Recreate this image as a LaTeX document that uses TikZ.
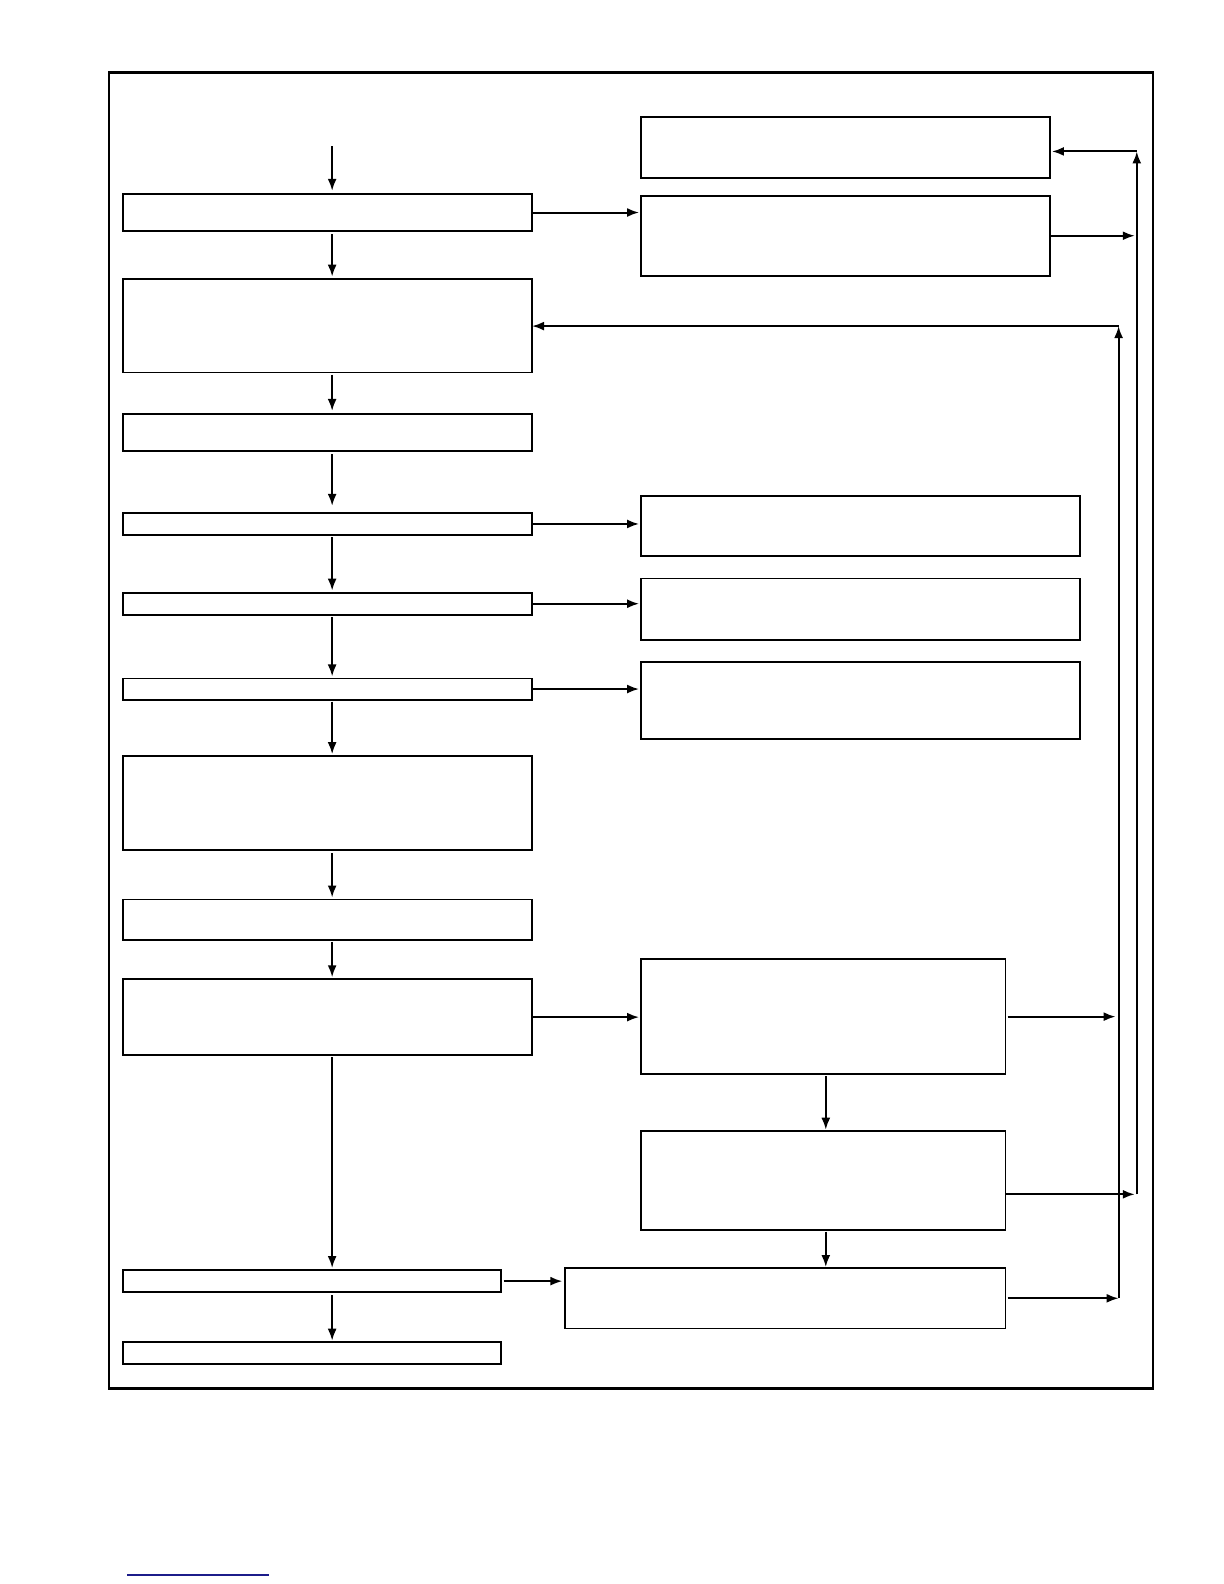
\documentclass[tikz,border=0pt]{standalone}
\usetikzlibrary{arrows.meta,fit}
\definecolor{l1}{HTML}{1C1C8A}
\newcommand\blk[5]{\node[box, fit={(#2,#3) (#4,#5)}] (#1) {};}

\begin{document}
\begin{tikzpicture}[x=1.0096pt,y=-1.0096pt,
	box/.style={draw,line width=1.8pt,inner sep=0pt,outer sep=0pt},
	arr/.style={->,line width=2pt},
	>={Latex[length=12pt,width=9pt]}]
	\useasboundingbox (0,0) rectangle (1212.4,1569);
	\draw [line width=2.8pt] (108,72) rectangle (1142,1375);
	\blk{b1}{122}{192}{527}{229}
	\blk{b2}{122}{276}{527}{369}
	\blk{b3}{122}{410}{527}{447}
	\blk{b4}{122}{508}{527}{530}
	\blk{b5}{122}{587}{527}{609}
	\blk{b6}{122}{672}{527}{693}
	\blk{b7}{122}{749}{527}{842}
	\blk{b8}{122}{891}{527}{931}
	\blk{b9}{122}{970}{527}{1045}
	\blk{b10}{122}{1258}{496}{1280}
	\blk{b11}{122}{1329}{496}{1351}
	\blk{r1}{635}{116}{1040}{176}
	\blk{r2}{635}{194}{1040}{273}
	\blk{r3}{635}{491}{1070}{551}
	\blk{r4}{635}{573}{1070}{634}
	\blk{r5}{635}{656}{1070}{732}
	\blk{r6}{635}{950}{996}{1064}
	\blk{r7}{635}{1120}{996}{1218}
	\blk{r8}{560}{1256}{996}{1316}
	\coordinate (in) at (329,145);
	\coordinate (o1) at (1126,150);
	\coordinate (o2) at (1126,1183);
	\coordinate (i1) at (1108,323);
	\coordinate (i2) at (1108,1286);
	\draw [arr,shorten >=3pt] (in) -- (in |- b1.north);
	\draw [arr,shorten <=3pt,shorten >=2pt] (b1.south -| in) -- (b2.north -| in);
	\draw [arr,shorten <=2pt,shorten >=3pt] (b2.south -| in) -- (b3.north -| in);
	\draw [arr,shorten <=3pt,shorten >=7pt] (b3.south -| in) -- (b4.north -| in);
	\draw [arr,shorten <=2pt,shorten >=2pt] (b4.south -| in) -- (b5.north -| in);
	\draw [arr,shorten <=2pt,shorten >=2pt] (b5.south -| in) -- (b6.north -| in);
	\draw [arr,shorten <=2pt,shorten >=2pt] (b6.south -| in) -- (b7.north -| in);
	\draw [arr,shorten <=3pt,shorten >=2pt] (b7.south -| in) -- (b8.north -| in);
	\draw [arr,shorten <=2pt,shorten >=2pt] (b8.south -| in) -- (b9.north -| in);
	\draw [arr,shorten <=2pt,shorten >=2pt] (b9.south -| in) -- (b10.north -| in);
	\draw [arr,shorten <=3pt,shorten >=1pt] (b10.south -| in) -- (b11.north -| in);
	\draw [arr,shorten >=2pt] (b1.east) -- (b1.east -| r2.west);
	\draw [arr,shorten >=2pt] (b4.east) -- (b4.east -| r3.west);
	\draw [arr,shorten >=2pt] (b5.east) -- (b5.east -| r4.west);
	\draw [arr,shorten >=2pt] (b6.east) -- (b6.east -| r5.west);
	\draw [arr,shorten >=2pt] (b9.east) -- (b9.east -| r6.west);
	\draw [arr,shorten <=3pt,shorten >=3pt] (b10.east) -- (b10.east -| r8.west);
	\draw [arr,shorten <=2pt,shorten >=1pt] ([xshift=2.5pt]r6.south) -- ([xshift=2.5pt]r7.north);
	\draw [arr,shorten <=2pt,shorten >=1pt] ([xshift=2.5pt]r7.south) -- ([xshift=2.5pt]r7.south |- r8.north);
	\draw [arr] (o2) -- (o1);
	\draw [arr,shorten >=2pt] (o1) -- (o1 -| r1.east);
	\draw [arr,shorten >=2pt] (r2.east) -- (r2.east -| o1);
	\draw [arr,shorten >=2pt] (o2 -| r7.east) -- (o2);
	\draw [arr] (i2) -- (i1);
	\draw [arr] (i1) -- (i1 -| b2.east);
	\draw [arr,shorten <=2pt,shorten >=3pt] (r6.east) -- (r6.east -| i1);
	\draw [arr,shorten <=2pt] (i2 -| r8.east) -- (i2);
	\draw [l1,line width=1.5pt] (126,1560) -- (266,1560);
\end{tikzpicture}
\end{document}
